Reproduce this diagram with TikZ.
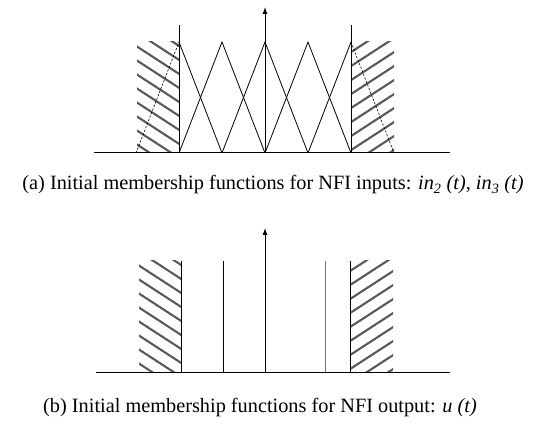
\documentclass[tikz,border=0pt]{standalone}
\usepackage{fontspec}
\setmainfont{Liberation Serif}
\usetikzlibrary{arrows.meta}
\begin{document}
\begin{tikzpicture}[x=1pt,y=-1pt,
  baseln/.style={line width=1pt},
  mf/.style={line width=0.8pt},
  vbar/.style={line width=1pt},
  graybar/.style={line width=1pt, black!55},
  hatchline/.style={black!65, line width=2.1pt},
  dashleg/.style={dash pattern=on 2.2pt off 1.6pt, line width=0.6pt},
  arrowaxis/.style={line width=0.9pt, -{Latex[length=7pt,width=5pt]}},
  caption/.style={font=\fontsize{20.3}{24}\selectfont, inner sep=0pt}]
\useasboundingbox (0,0) rectangle (539,425);
% ---------- (a) ----------
\begin{scope}
  \clip (137,42) rectangle (179,153);
  \foreach \k in {-4,...,10} \draw[hatchline] (130,42+\k*14) -- ++(60,39);
\end{scope}
\begin{scope}
  \clip (351,42) rectangle (394,153);
  \foreach \k in {0,...,13} \draw[hatchline] (345,42+\k*14) -- ++(60,-39);
\end{scope}
\coordinate (a0) at (94,153);
\coordinate (a1) at (450,153);
\draw[baseln] (a0) -- (a1);
% triangles
\foreach \p in {222,265,308} \draw[mf] (\p-43,153) -- (\p,42) -- (\p+43,153);
\draw[mf] (179,42) -- (222,153);
\draw[mf] (351,42) -- (308,153);
\draw[dashleg] (136,153) -- (179,42);
\draw[dashleg] (351,42) -- (394,153);
\draw[vbar] (179,25) -- (179,153);
\draw[vbar] (351,25) -- (351,153);
\draw[arrowaxis] (265,153) -- (265,7);
\node[caption] (capa) at (273,185) {(a) Initial membership functions for NFI inputs: \textit{in\textsubscript{2} (t), in\textsubscript{3} (t)}};
% ---------- (b) ----------
\begin{scope}
  \clip (139,261) rectangle (181,372);
  \foreach \k in {-4,...,10} \draw[hatchline] (132,261+\k*14) -- ++(60,39);
\end{scope}
\begin{scope}
  \clip (350,261) rectangle (393,372);
  \foreach \k in {0,...,13} \draw[hatchline] (344,261+\k*14) -- ++(60,-39);
\end{scope}
\coordinate (b0) at (96,372);
\coordinate (b1) at (450,372);
\draw[baseln] (b0) -- (b1);
\draw[vbar] (181,261) -- (181,372);
\draw[vbar] (223,261) -- (223,372);
\draw[graybar] (325,261) -- (325,372);
\draw[vbar] (350,261) -- (350,372);
\draw[arrowaxis] (265,372) -- (265,228);
\node[caption] (capb) at (260,408) {(b) Initial membership functions for NFI output: \textit{u (t)}};
\end{tikzpicture}
\end{document}
